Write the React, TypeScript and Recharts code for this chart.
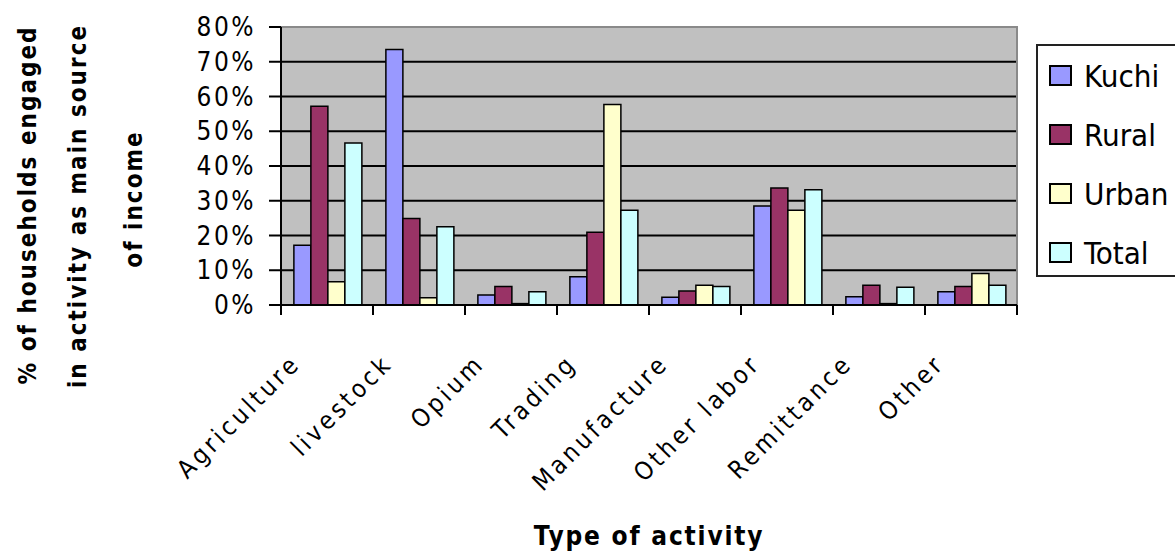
import React from 'react';
import { BarChart, Bar, XAxis, YAxis, CartesianGrid, Legend, ReferenceArea } from 'recharts';

const categories = ['Agriculture', 'livestock', 'Opium', 'Trading', 'Manufacture', 'Other labor', 'Remittance', 'Other'];
const kuchi = [17.2, 73.5, 2.9, 8.1, 2.2, 28.5, 2.4, 3.8];
const rural = [57.2, 24.9, 5.3, 20.9, 4.0, 33.7, 5.7, 5.3];
const urban = [6.7, 2.1, 0.4, 57.7, 5.7, 27.3, 0.4, 9.1];
const total = [46.6, 22.5, 3.8, 27.3, 5.3, 33.2, 5.1, 5.7];
const yTicks = [0, 10, 20, 30, 40, 50, 60, 70, 80];

const seriesNames = ['Kuchi', 'Rural', 'Urban', 'Total'];
const seriesColors = ['#9999FF', '#993366', '#FFFFCC', '#CCFFFF'];
const yTitleLines = ['% of households engaged', 'in activity as main source', 'of income'];
const xTitle = 'Type of activity';

const FONT = '"DejaVu Sans Condensed", "DejaVu Sans", sans-serif';

const rows = categories.map((name, i) => ({
    name,
    Kuchi: kuchi[i],
    Rural: rural[i],
    Urban: urban[i],
    Total: total[i],
}));

// tick mark sits on the category boundary, label rotated below it
function CategoryTick(props: any) {
    const { x, y, payload } = props;
    const index = props.index ?? payload.index;
    const half = payload.offset ?? 0;
    return (
        <g>
            <line x1={x - half} x2={x - half} y1={y} y2={y + 10} stroke="#000" strokeWidth={2} />
            {index === categories.length - 1 && (
                <line x1={x + half} x2={x + half} y1={y} y2={y + 10} stroke="#000" strokeWidth={2} />
            )}
            <text
                transform={`translate(${x - 25},${y + 60}) rotate(-45)`}
                textAnchor="end"
                fontFamily={FONT}
                fontSize={25}
                letterSpacing={3.5}
                fill="#000"
            >
                {payload.value}
            </text>
        </g>
    );
}

function YTitle(props: any) {
    const xs = [28, 78, 134];
    const ys = [205, 206, 199];
    return (
        <g>
            {yTitleLines.map((line, i) => (
                <text
                    key={line}
                    transform={`translate(${xs[i]},${ys[i]}) rotate(-90)`}
                    textAnchor="middle"
                    dominantBaseline="central"
                    fontFamily={FONT}
                    fontWeight="bold"
                    fontSize={24}
                    letterSpacing={2}
                    fill="#000"
                >
                    {line}
                </text>
            ))}
        </g>
    );
}

function XTitle(props: any) {
    const vb = props.viewBox || {};
    return (
        <text
            x={vb.x + vb.width / 2}
            y={vb.y + 240}
            textAnchor="middle"
            fontFamily={FONT}
            fontWeight="bold"
            fontSize={26}
            letterSpacing={1.8}
            fill="#000"
        >
            {xTitle}
        </text>
    );
}

function LegendBox(props: any) {
    const payload = props.payload || [];
    const items = seriesNames
        .map((n) => payload.find((p: any) => p.value === n))
        .filter(Boolean);
    return (
        <div
            style={{
                border: '2px solid #222',
                background: '#fff',
                width: 160,
                height: 233,
                boxSizing: 'border-box',
                paddingTop: 0,
                paddingLeft: 11,
                fontFamily: FONT,
            }}
        >
            {items.map((it: any) => (
                <div key={it.value} style={{ display: 'flex', alignItems: 'center', height: 59 }}>
                    <span
                        style={{
                            display: 'inline-block',
                            width: 19,
                            height: 17,
                            background: it.color,
                            border: '2px solid #000',
                            marginRight: 12,
                        }}
                    />
                    <span style={{ fontSize: 31, color: '#000' }}>{it.value}</span>
                </div>
            ))}
        </div>
    );
}

export default function App() {
    return (
        <div style={{ position: 'absolute', left: 0, top: 0, width: 1175, height: 556, overflow: 'hidden', background: '#fff' }}>
            <BarChart
                width={1175}
                height={556}
                data={rows}
                margin={{ top: 27, right: 158, left: 0, bottom: 0 }}
                barCategoryGap="14%"
                barGap={0}
            >
                <CartesianGrid vertical={false} stroke="#000" strokeWidth={2} fill="#C0C0C0" fillOpacity={1} />
                <ReferenceArea y1={0} y2={80} fill="none" stroke="#8a8a8a" strokeWidth={2} ifOverflow="visible" />
                <XAxis
                    dataKey="name"
                    height={251}
                    interval={0}
                    tickSize={0}
                    tickMargin={0}
                    tickLine={false}
                    axisLine={{ stroke: '#000', strokeWidth: 2 }}
                    tick={<CategoryTick />}
                    label={<XTitle />}
                />
                <YAxis
                    width={281}
                    domain={[0, 80]}
                    ticks={yTicks}
                    interval={0}
                    tickFormatter={(v: number) => `${v}%`}
                    tickSize={12}
                    tickMargin={13}
                    tickLine={{ stroke: '#000', strokeWidth: 2 }}
                    axisLine={{ stroke: '#000', strokeWidth: 2 }}
                    tick={{ fill: '#000', fontSize: 26, fontFamily: FONT, letterSpacing: 2.5 }}
                    label={<YTitle />}
                />
                <Legend
                    layout="vertical"
                    align="center"
                    verticalAlign="middle"
                    wrapperStyle={{ position: 'absolute', left: 1036, top: 44, width: 160 }}
                    content={<LegendBox />}
                />
                {seriesNames.map((name, i) => (
                    <Bar
                        key={name}
                        dataKey={name}
                        fill={seriesColors[i]}
                        stroke="#000"
                        strokeWidth={1.5}
                        isAnimationActive={false}
                    />
                ))}
            </BarChart>
        </div>
    );
}
